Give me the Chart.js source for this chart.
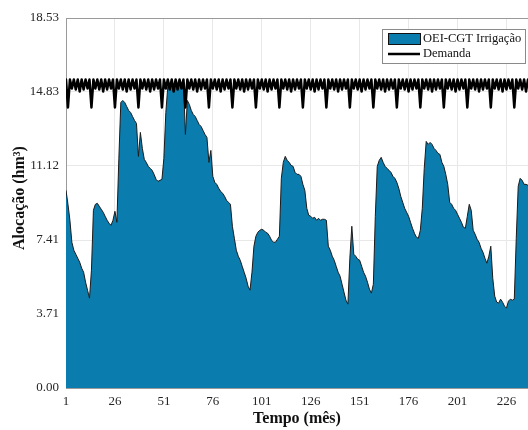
<!DOCTYPE html>
<html>
<head>
  <title>Alocação OEI-CGT</title>
  <script src="https://cdn.jsdelivr.net/npm/chart.js"></script>
  <style>
    body { margin: 0; background: #ffffff; }
    #wrap { width: 528px; height: 430px; position: relative; }
  </style>
</head>
<body>
<div id="wrap"><canvas id="alocChart"></canvas></div>
<script>
  // time axis (months 1..237)
  var months = [];
  for (var m = 1; m <= 237; m++) months.push(m);

  var xTicks = [1, 26, 51, 76, 101, 126, 151, 176, 201, 226];
  var yTicks = [0, 3.71, 7.41, 11.12, 14.83, 18.53];

  // allocation to irrigation (hm3), one value per month
  var irrigacao = [
    9.9, 9.2, 8.4, 7.3, 6.9, 6.7, 6.5, 6.3, 6.0, 5.8, 5.3, 4.9,
    4.5, 5.9, 8.9, 9.2, 9.25, 9.1, 8.95, 8.8, 8.6, 8.4, 8.25, 8.15,
    8.4, 8.85, 8.3, 11.5, 14.3, 14.4, 14.3, 14.1, 13.9, 13.8, 13.6, 13.4,
    13.25, 11.6, 12.8, 12.0, 11.45, 11.3, 11.1, 11.0, 10.9, 10.7, 10.45, 10.35,
    10.4, 10.45, 11.5, 13.8, 15.1, 14.95, 15.4, 14.85, 15.4, 14.95, 15.4, 15.0,
    15.3, 12.7, 14.4, 14.2, 13.9, 13.7, 13.6, 13.4, 13.2, 13.1, 12.9, 12.7,
    12.55, 11.3, 11.9, 10.6, 10.3, 10.2, 10.0, 9.85, 9.75, 9.6, 9.4, 9.3,
    9.2, 8.1, 7.5, 6.9, 6.6, 6.4, 6.1, 5.8, 5.5, 5.1, 4.9, 5.8,
    7.1, 7.6, 7.8, 7.9, 7.95, 7.9, 7.8, 7.75, 7.6, 7.4, 7.3, 7.3,
    7.45, 7.6, 10.5, 11.3, 11.6, 11.4, 11.3, 11.15, 11.1, 10.8, 10.7, 10.7,
    10.6, 10.2, 9.9, 9.0, 8.65, 8.6, 8.5, 8.55, 8.4, 8.5, 8.4, 8.45,
    8.45, 8.4, 7.1, 6.9, 6.6, 6.4, 6.1, 5.8, 5.6, 5.2, 4.8, 4.4,
    4.2, 6.5, 8.1, 6.7, 6.6, 6.45, 6.4, 6.1, 5.8, 5.6, 5.3, 4.95,
    4.75, 5.2, 8.6, 11.1, 11.4, 11.55, 11.3, 11.1, 11.0, 10.9, 10.8, 10.6,
    10.5, 10.3, 10.0, 9.6, 9.3, 9.0, 8.8, 8.6, 8.3, 8.0, 7.75, 7.55,
    7.5, 7.9, 9.0, 11.0, 12.35, 12.2, 12.3, 12.2, 12.0, 11.9, 11.75, 11.7,
    11.3, 11.1, 10.7, 10.2, 9.3, 9.2, 9.0, 8.9, 8.7, 8.5, 8.3, 8.05,
    8.0, 8.6, 9.2, 8.9, 7.9, 7.7, 7.45, 7.3, 7.0, 6.8, 6.5, 6.25,
    6.6, 7.1, 5.5, 4.6, 4.3, 4.25, 4.45, 4.3, 4.1, 4.0, 4.35, 4.45,
    4.4, 4.45, 7.5, 10.1, 10.5, 10.4, 10.2, 10.2, 10.15
  ];

  // monthly demand (hm3)
  var demanda = [
    15.45, 14.05, 15.45, 15.0, 15.45, 14.95, 15.45, 14.85, 15.45, 14.95, 15.45, 15.0,
    15.45, 14.05, 15.45, 15.0, 15.45, 14.95, 15.45, 14.85, 15.45, 14.95, 15.45, 15.0,
    15.45, 14.05, 15.45, 15.0, 15.45, 14.95, 15.45, 14.85, 15.45, 14.95, 15.45, 15.0,
    15.45, 14.05, 15.45, 15.0, 15.45, 14.95, 15.45, 14.85, 15.45, 14.95, 15.45, 15.0,
    15.45, 14.05, 15.45, 15.0, 15.45, 14.95, 15.45, 14.85, 15.45, 14.95, 15.45, 15.0,
    15.45, 14.05, 15.45, 15.0, 15.45, 14.95, 15.45, 14.85, 15.45, 14.95, 15.45, 15.0,
    15.45, 14.05, 15.45, 15.0, 15.45, 14.95, 15.45, 14.85, 15.45, 14.95, 15.45, 15.0,
    15.45, 14.05, 15.45, 15.0, 15.45, 14.95, 15.45, 14.85, 15.45, 14.95, 15.45, 15.0,
    15.45, 14.05, 15.45, 15.0, 15.45, 14.95, 15.45, 14.85, 15.45, 14.95, 15.45, 15.0,
    15.45, 14.05, 15.45, 15.0, 15.45, 14.95, 15.45, 14.85, 15.45, 14.95, 15.45, 15.0,
    15.45, 14.05, 15.45, 15.0, 15.45, 14.95, 15.45, 14.85, 15.45, 14.95, 15.45, 15.0,
    15.45, 14.05, 15.45, 15.0, 15.45, 14.95, 15.45, 14.85, 15.45, 14.95, 15.45, 15.0,
    15.45, 14.05, 15.45, 15.0, 15.45, 14.95, 15.45, 14.85, 15.45, 14.95, 15.45, 15.0,
    15.45, 14.05, 15.45, 15.0, 15.45, 14.95, 15.45, 14.85, 15.45, 14.95, 15.45, 15.0,
    15.45, 14.05, 15.45, 15.0, 15.45, 14.95, 15.45, 14.85, 15.45, 14.95, 15.45, 15.0,
    15.45, 14.05, 15.45, 15.0, 15.45, 14.95, 15.45, 14.85, 15.45, 14.95, 15.45, 15.0,
    15.45, 14.05, 15.45, 15.0, 15.45, 14.95, 15.45, 14.85, 15.45, 14.95, 15.45, 15.0,
    15.45, 14.05, 15.45, 15.0, 15.45, 14.95, 15.45, 14.85, 15.45, 14.95, 15.45, 15.0,
    15.45, 14.05, 15.45, 15.0, 15.45, 14.95, 15.45, 14.85, 15.45, 14.95, 15.45, 15.0,
    15.45, 14.05, 15.45, 15.0, 15.45, 14.95, 15.45, 14.85, 15.45
  ];

  var serif = '"Liberation Serif", "DejaVu Serif", serif';
  var azul = '#0a7cae';

  function pontos(vals) {
    return vals.map(function (v, i) { return { x: months[i], y: v }; });
  }

  // axis titles + boxed legend drawn on top
  var extras = {
    id: 'extras',
    afterDraw: function (chart) {
      var ctx = chart.ctx;
      var a = chart.chartArea;
      ctx.save();

      // top frame line
      ctx.strokeStyle = '#9a9a9a';
      ctx.lineWidth = 1;
      ctx.beginPath();
      ctx.moveTo(a.left, a.top + 0.5);
      ctx.lineTo(a.right, a.top + 0.5);
      ctx.stroke();

      ctx.fillStyle = '#111';
      ctx.font = 'bold 16px ' + serif;
      ctx.textAlign = 'center';
      ctx.textBaseline = 'middle';
      ctx.fillText('Tempo (mês)', (a.left + a.right) / 2, 419);

      ctx.translate(20, 198);
      ctx.rotate(-Math.PI / 2);
      ctx.fillText('Alocação (hm³)', 0, 0);
      ctx.setTransform(1, 0, 0, 1, 0, 0);

      // legend
      var lx = 382, ly = 29, lw = 143, lh = 34;
      ctx.fillStyle = '#ffffff';
      ctx.fillRect(lx, ly, lw, lh);
      ctx.strokeStyle = '#8a8a8a';
      ctx.lineWidth = 1;
      ctx.strokeRect(lx + 0.5, ly + 0.5, lw, lh);

      ctx.fillStyle = azul;
      ctx.fillRect(388, 33, 32, 11);
      ctx.strokeStyle = '#111';
      ctx.strokeRect(388.5, 33.5, 32, 11);

      ctx.strokeStyle = '#000';
      ctx.lineWidth = 2.5;
      ctx.beginPath();
      ctx.moveTo(388, 54);
      ctx.lineTo(420, 54);
      ctx.stroke();

      ctx.fillStyle = '#111';
      ctx.font = '12.5px ' + serif;
      ctx.textAlign = 'left';
      ctx.fillText('OEI-CGT Irrigação', 423, 39);
      ctx.fillText('Demanda', 423, 54);
      ctx.restore();
    }
  };

  new Chart(document.getElementById('alocChart').getContext('2d'), {
    type: 'line',
    data: {
      datasets: [
        {
          label: 'Demanda',
          data: pontos(demanda),
          borderColor: '#000000',
          borderWidth: 2.5,
          borderJoinStyle: 'round',
          borderCapStyle: 'round',
          pointRadius: 0,
          fill: false,
          order: 0
        },
        {
          label: 'OEI-CGT Irrigação',
          data: pontos(irrigacao),
          borderColor: '#1b1b1b',
          borderWidth: 1,
          borderJoinStyle: 'round',
          backgroundColor: azul,
          pointRadius: 0,
          fill: 'origin',
          order: 1
        }
      ]
    },
    options: {
      responsive: true,
      maintainAspectRatio: false,
      animation: false,
      layout: { padding: { top: 18, right: 0, left: 0, bottom: 0 } },
      plugins: {
        legend: { display: false },
        tooltip: { enabled: false }
      },
      scales: {
        x: {
          type: 'linear',
          min: 1,
          max: 237,
          afterBuildTicks: function (scale) {
            scale.ticks = xTicks.map(function (v) { return { value: v }; });
          },
          afterFit: function (scale) { scale.height = 42; },
          ticks: {
            autoSkip: false,
            maxRotation: 0,
            padding: 6,
            color: '#262626',
            font: { family: serif, size: 13 },
            callback: function (v) { return String(v); }
          },
          grid: { color: '#e8e8e8', drawTicks: false },
          border: { display: true, color: '#9a9a9a' }
        },
        y: {
          min: 0,
          max: 18.53,
          afterBuildTicks: function (scale) {
            scale.ticks = yTicks.map(function (v) { return { value: v }; });
          },
          afterFit: function (scale) { scale.width = 66; },
          ticks: {
            padding: 7,
            color: '#262626',
            font: { family: serif, size: 13 },
            callback: function (v) { return Number(v).toFixed(2); }
          },
          grid: { color: '#e8e8e8', drawTicks: false },
          border: { display: true, color: '#9a9a9a' }
        }
      }
    },
    plugins: [extras]
  });
</script>
</body>
</html>
